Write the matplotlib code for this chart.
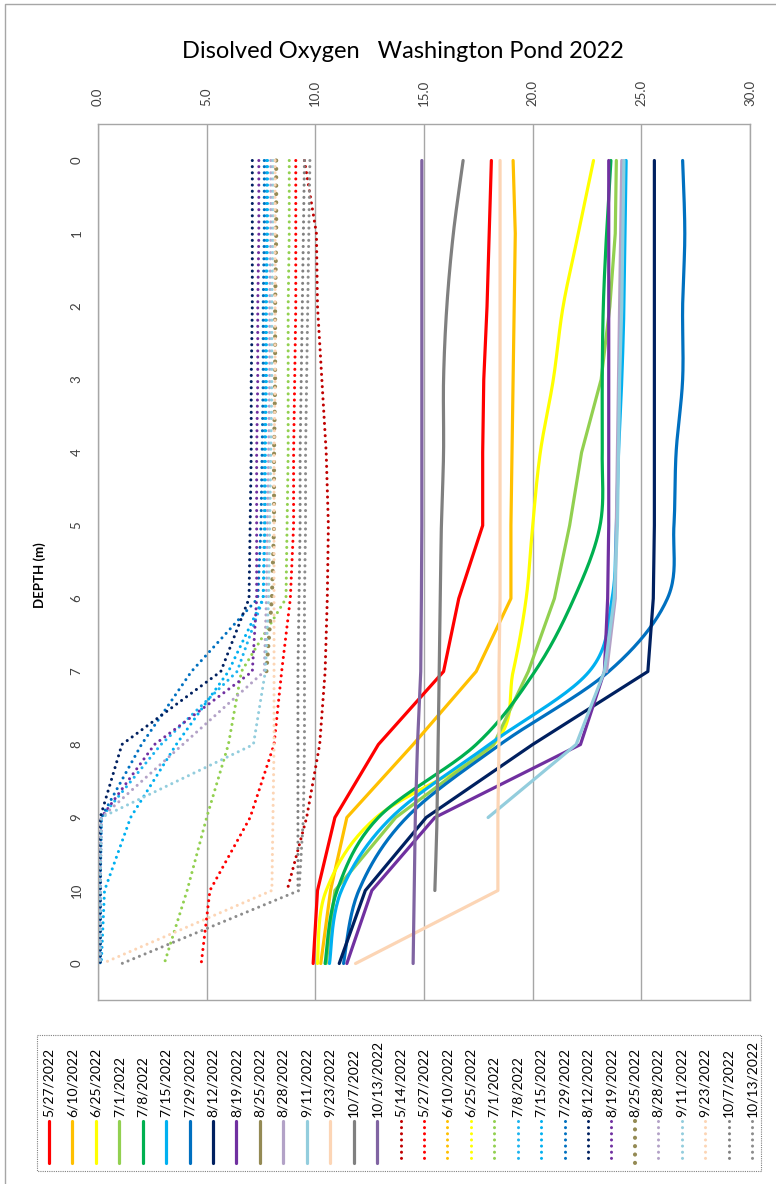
import numpy as np
import matplotlib
matplotlib.use("Agg")
import matplotlib.pyplot as plt

plt.rcParams['font.family'] = ['Lato', 'DejaVu Sans']

nan = np.nan
depth_labels = ['0', '1', '2', '3', '4', '5', '6', '7', '8', '9', '10', '0']

# temperature (deg C), solid lines
temp_dates = ['5/27/2022', '6/10/2022', '6/25/2022', '7/1/2022', '7/8/2022', '7/15/2022',
              '7/29/2022', '8/12/2022', '8/19/2022', '8/25/2022', '8/28/2022', '9/11/2022',
              '9/23/2022', '10/7/2022', '10/13/2022']
t_0527 = [18.1, 18.0, 17.9, 17.75, 17.7, 17.7, 16.6, 15.9, 12.9, 10.9, 10.1, 9.9]
t_0610 = [19.1, 19.2, 19.15, 19.1, 19.05, 19.0, 19.0, 17.4, 14.5, 11.45, 10.7, 10.25]
t_0625 = [22.8, 22.1, 21.4, 20.95, 20.35, 20.0, 19.7, 19.1, 18.2, 12.8, 10.5, 10.1]
t_0701 = [23.85, 23.8, 23.55, 23.15, 22.25, 21.7, 21.0, 19.8, 18.2, 13.7, 10.9, 10.5]
t_0708 = [23.6, 23.4, 23.25, 23.2, 23.2, 23.1, 21.9, 20.1, 17.4, 12.9, 11.0, 10.45]
t_0715 = [24.3, 24.25, 24.2, 24.1, 23.95, 23.85, 23.65, 22.6, 18.0, 13.5, 11.2, 10.65]
t_0729 = [26.9, 27.0, 26.9, 26.9, 26.6, 26.5, 26.2, 23.5, 18.5, 14.2, 12.0, 11.3]
t_0812 = [25.6, 25.6, 25.6, 25.6, 25.6, 25.6, 25.55, 25.3, 20.0, 15.1, 12.3, 11.1]
t_0819 = [23.5, 23.5, 23.5, 23.5, 23.5, 23.5, 23.45, 23.3, 22.2, 15.5, 12.6, 11.45]
t_0825 = [nan] * 12
t_0828 = [24.1, 24.05, 24.0, 23.95, 23.9, 23.85, 23.8, 23.4, nan, nan, nan, nan]
t_0911 = [24.2, 24.15, 24.1, 24.0, 23.95, 23.9, 23.75, 23.3, 22.0, 17.95, nan, nan]
t_0923 = [18.5, 18.5, 18.5, 18.5, 18.5, 18.5, 18.5, 18.45, 18.45, 18.4, 18.4, 11.85]
t_1007 = [16.8, 16.35, 16.05, 15.9, 15.9, 15.8, 15.75, 15.7, 15.65, 15.6, 15.5, nan]
t_1013 = [14.9, 14.9, 14.9, 14.9, 14.9, 14.9, 14.88, 14.85, 14.7, 14.6, 14.55, 14.5]
temp_vals = [t_0527, t_0610, t_0625, t_0701, t_0708, t_0715, t_0729, t_0812, t_0819,
             t_0825, t_0828, t_0911, t_0923, t_1007, t_1013]
temp_colors = ['#FF0000', '#FFC000', '#FFFF00', '#92D050', '#00B050', '#00B0F0', '#0070C0',
               '#002060', '#7030A0', '#948A54', '#B3A2C7', '#93CDDD', '#FCD5B5', '#808080',
               '#8064A2']
temp_smooth = ['6/25/2022', '7/8/2022', '7/15/2022', '7/29/2022', '10/7/2022']

# dissolved oxygen, dotted lines
do_dates = ['5/14/2022', '5/27/2022', '6/10/2022', '6/25/2022', '7/1/2022', '7/8/2022',
            '7/15/2022', '7/29/2022', '8/12/2022', '8/19/2022', '8/25/2022', '8/28/2022',
            '9/11/2022', '9/23/2022', '10/7/2022', '10/13/2022']
o_0514 = [9.5, 10.05, 10.1, 10.3, 10.5, 10.6, 10.55, 10.45, 10.2, 9.6, 8.7, nan]
o_0527 = [9.1, 9.1, 9.1, 9.05, 9.0, 9.0, 8.85, 8.45, 8.1, 7.0, 5.15, 4.75]
o_0610 = [nan] * 12
o_0625 = [nan] * 12
o_0701 = [8.8, 8.8, 8.75, 8.75, 8.75, 8.7, 8.65, 6.6, 6.0, 5.0, 4.1, 3.05]
o_0708 = [7.75, 7.75, 7.7, 7.7, 7.65, 7.65, 7.6, 6.4, 2.9, 0.15, 0.1, 0.1]
o_0715 = [7.8, 7.8, 7.75, 7.75, 7.7, 7.7, 7.6, 6.0, 3.6, 1.5, 0.3, 0.15]
o_0729 = [7.65, 7.65, 7.6, 7.6, 7.55, 7.5, 7.35, 4.3, 2.0, 0.15, 0.1, 0.1]
o_0812 = [7.1, 7.1, 7.1, 7.05, 7.05, 7.0, 6.95, 5.65, 1.1, 0.1, 0.1, 0.1]
o_0819 = [7.4, 7.4, 7.35, 7.35, 7.3, 7.3, 7.3, 7.1, 2.6, 0.15, 0.1, 0.1]
o_0825 = [8.2, 8.2, 8.15, 8.15, 8.1, 8.1, 8.0, 7.75, nan, nan, nan, nan]
o_0828 = [7.95, 7.95, 7.9, 7.9, 7.85, 7.8, 7.75, 7.65, 3.9, 0.15, 0.1, 0.1]
o_0911 = [8.05, 8.05, 8.0, 8.0, 7.95, 7.9, 7.85, 7.7, 7.15, 0.15, 0.1, 0.1]
o_0923 = [8.15, 8.15, 8.15, 8.15, 8.1, 8.1, 8.1, 8.1, 8.1, 8.05, 8.0, 0.2]
o_1007 = [9.5, 9.45, 9.4, 9.35, 9.3, 9.3, 9.25, 9.2, 9.2, 9.2, 9.2, nan]
o_1013 = [9.75, 9.7, 9.65, 9.6, 9.55, 9.55, 9.5, 9.5, 9.5, 9.45, 9.25, 1.1]
do_vals = [o_0514, o_0527, o_0610, o_0625, o_0701, o_0708, o_0715, o_0729, o_0812,
           o_0819, o_0825, o_0828, o_0911, o_0923, o_1007, o_1013]
do_colors = ['#C00000', '#FF0000', '#FFC000', '#FFFF00', '#92D050', '#1CB4F0', '#00B0F0',
             '#0070C0', '#002060', '#7030A0', '#948A54', '#B3A2C7', '#93CDDD', '#FCD5B5',
             '#808080', '#8C8C8C']

x_ticks = [0, 5, 10, 15, 20, 25, 30]


def smooth(xv, yv, n=24):
    # catmull-rom through the points, like excel's smoothed line
    pts = np.column_stack([xv, yv])
    pts = pts[~np.isnan(pts[:, 0])]
    p = np.vstack([pts[0], pts, pts[-1]])
    t = np.linspace(0, 1, n, endpoint=False)[:, None]
    out = []
    for i in range(1, len(p) - 2):
        p0, p1, p2, p3 = p[i - 1], p[i], p[i + 1], p[i + 2]
        out.append(0.5 * (2 * p1 + (p2 - p0) * t + (2 * p0 - 5 * p1 + 4 * p2 - p3) * t ** 2
                          + (-p0 + 3 * p1 - 3 * p2 + p3) * t ** 3))
    out.append(p[-2][None])
    s = np.vstack(out)
    return s[:, 0], s[:, 1]


W, H = 776, 1184
fig = plt.figure(figsize=(W / 100, H / 100), dpi=100)

# overlay in pixel coords for border, titles and the legend
ov = fig.add_axes([0, 0, 1, 1])
ov.set_xlim(0, W)
ov.set_ylim(H, 0)
ov.axis('off')

L, R, T, B = 98, 750, 124, 1000
ax = fig.add_axes([L / W, 1 - B / H, (R - L) / W, (B - T) / H])
ax.set_xlim(0, 30)
ax.set_ylim(len(depth_labels) - 0.5, -0.5)
ax.set_xticks(x_ticks)
ax.set_xticklabels(['%.1f' % v for v in x_ticks])
ax.xaxis.tick_top()
ax.tick_params(axis='x', length=0, pad=13, labelrotation=90, labelsize=9.5, colors='#404040')
ax.set_yticks(range(len(depth_labels)))
ax.set_yticklabels(depth_labels)
ax.tick_params(axis='y', length=0, pad=11, labelrotation=90, labelsize=9.5, colors='#404040')
for lab in ax.get_yticklabels():
    lab.set_va('center')
ax.grid(axis='x', color='#A6A6A6', lw=1)
for s in ax.spines.values():
    s.set_color('#A6A6A6')
    s.set_linewidth(1)

yy = np.arange(len(depth_labels), dtype=float)
dot = dict(linestyle=(0, (0.01, 2.0)), dash_capstyle='round')

for name, vals, c in zip(temp_dates, temp_vals, temp_colors):
    v = np.array(vals, dtype=float)
    if name in temp_smooth:
        xs, ys = smooth(v, yy)
    else:
        xs, ys = v, yy
    ax.plot(xs, ys, color=c, lw=2.3, solid_capstyle='round')

for name, vals, c in zip(do_dates, do_vals, do_colors):
    v = np.array(vals, dtype=float)
    lw = 3.0 if name == '8/25/2022' else 2.2
    ax.plot(v, yy, color=c, lw=lw, **dot)

# texts
ov.text(403, 52, 'Disolved Oxygen   Washington Pond 2022', ha='center', va='center',
        fontsize=17, color='#000000')
ov.text(126, 141, 'Disolved Oxygen (ug/L)', ha='left', va='center', fontsize=9.5)
ov.text(458, 141, 'Temperature   (deg )C', ha='left', va='center', fontsize=9.5)
ov.text(40, 575, 'DEPTH (m)', ha='center', va='center', rotation=90, fontsize=9.5,
        fontweight='bold')

# outer chart border
ov.plot([5, 5, 776], [1184, 4, 4], color='#A6A6A6', lw=1)

# legend
lx0, lx1, ly0, ly1 = 37, 761, 1035, 1171
ov.plot([lx0, lx1, lx1, lx0, lx0], [ly0, ly0, ly1, ly1, ly0], color='#808080', lw=0.8,
        linestyle=(0, (1, 1)))
names = temp_dates + do_dates
cols = temp_colors + do_colors
n = len(names)
step = (752 - 49) / (n - 1)
for i, (nm, c) in enumerate(zip(names, cols)):
    x = 49 + step * i
    ov.text(x, 1117, nm, rotation=90, ha='center', va='bottom', fontsize=10)
    if i < len(temp_dates):
        ov.plot([x, x], [1121, 1163], color=c, lw=2.3, solid_capstyle='round')
    else:
        lw = 3.0 if nm == '8/25/2022' else 2.2
        ov.plot([x, x], [1121, 1163], color=c, lw=lw, **dot)

fig.savefig('out.png', dpi=100)
